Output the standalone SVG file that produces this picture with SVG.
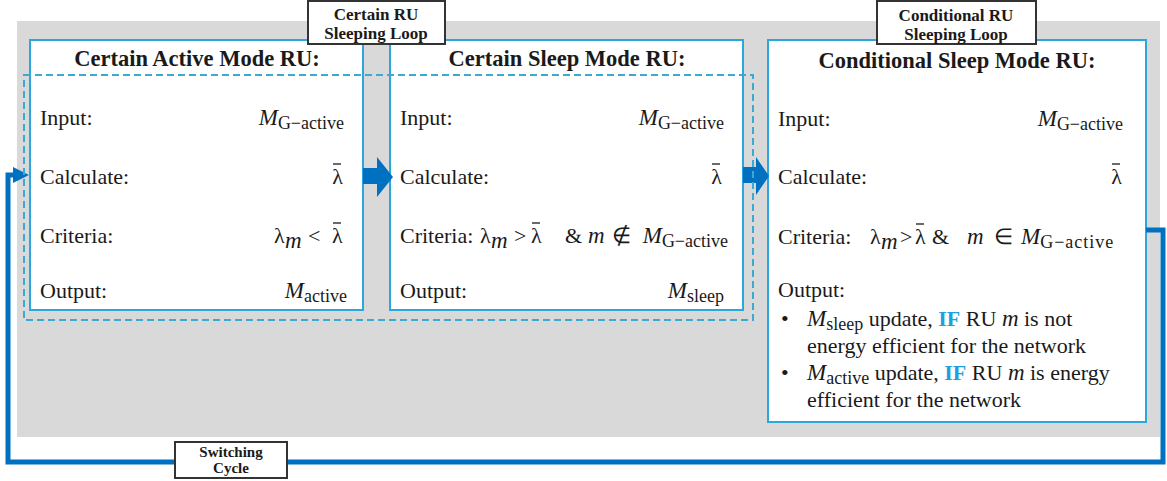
<svg xmlns="http://www.w3.org/2000/svg" width="1167" height="481" viewBox="0 0 1167 481">
<style>
  .t{font-family:"Liberation Serif","Times New Roman",serif;font-size:22px;fill:#1a1a1a}
  .tb{font-family:"Liberation Serif","Times New Roman",serif;font-weight:bold;fill:#1a1a1a}
  .it{font-style:italic}
  .mi{font-style:italic;font-size:23px}
  .sub{font-size:18px}
  .box{fill:#ffffff;stroke:#2ba6de;stroke-width:2}
  .lbl{fill:#ffffff;stroke:#333333;stroke-width:2}
  .bar{stroke:#1a1a1a;stroke-width:1.3}
  .if{fill:#1f9fdc;font-weight:bold}
</style>
<rect x="17" y="21" width="1143" height="416" fill="#d9d9d9"/>

<g id="node-active">
  <rect class="box" x="30" y="40" width="333" height="270"/>
  <text class="tb" x="197" y="66" font-size="22.5" text-anchor="middle">Certain Active Mode RU:</text>
  <text class="t" x="40" y="125">Input:</text>
  <text class="t" x="344" y="125" text-anchor="end"><tspan class="mi">M</tspan><tspan class="sub" dy="4">G−active</tspan></text>
  <text class="t" x="40" y="184">Calculate:</text>
  <text class="t" x="343" y="184" text-anchor="end">λ</text>
  <line class="bar" x1="333" y1="164" x2="341" y2="164"/>
  <text class="t" x="40" y="243">Criteria:</text>
  <text class="t" x="274" y="243">λ</text>
  <text class="t mi" x="285" y="248" font-size="19">m</text>
  <text class="t" x="308" y="243">&lt;</text>
  <text class="t" x="332" y="243">λ</text>
  <line class="bar" x1="333" y1="223" x2="341" y2="223"/>
  <text class="t" x="40" y="298">Output:</text>
  <text class="t" x="347" y="298" text-anchor="end"><tspan class="mi">M</tspan><tspan class="sub" dy="4">active</tspan></text>
</g>

<g id="node-sleep">
  <rect class="box" x="390" y="40" width="353" height="270"/>
  <text class="tb" x="567" y="66" font-size="22.5" text-anchor="middle">Certain Sleep Mode RU:</text>
  <text class="t" x="400" y="125">Input:</text>
  <text class="t" x="724" y="125" text-anchor="end"><tspan class="mi">M</tspan><tspan class="sub" dy="4">G−active</tspan></text>
  <text class="t" x="400" y="184">Calculate:</text>
  <text class="t" x="722" y="184" text-anchor="end">λ</text>
  <line class="bar" x1="712" y1="164" x2="720" y2="164"/>
  <text class="t" x="400" y="243">Criteria:</text>
  <text class="t" x="480" y="243">λ</text>
  <text class="t mi" x="491" y="248" font-size="19">m</text>
  <text class="t" x="514" y="243">&gt;</text>
  <text class="t" x="531" y="243">λ</text>
  <line class="bar" x1="532" y1="223" x2="540" y2="223"/>
  <text class="t" x="565" y="243">&amp;</text>
  <text class="t mi" x="588" y="243">m</text>
  <text class="t" x="612" y="243">∉</text>
  <text class="t" x="728" y="243" text-anchor="end"><tspan class="mi">M</tspan><tspan class="sub" dy="4">G−active</tspan></text>
  <text class="t" x="400" y="298">Output:</text>
  <text class="t" x="724" y="298" text-anchor="end"><tspan class="mi">M</tspan><tspan class="sub" dy="4">sleep</tspan></text>
</g>

<g id="node-conditional">
  <rect class="box" x="768" y="40" width="378" height="382"/>
  <text class="tb" x="957" y="68" font-size="22.5" text-anchor="middle">Conditional Sleep Mode RU:</text>
  <text class="t" x="778" y="126">Input:</text>
  <text class="t" x="1123" y="126" text-anchor="end"><tspan class="mi">M</tspan><tspan class="sub" dy="4">G−active</tspan></text>
  <text class="t" x="778" y="184">Calculate:</text>
  <text class="t" x="1122" y="184" text-anchor="end">λ</text>
  <line class="bar" x1="1112" y1="164" x2="1120" y2="164"/>
  <text class="t" x="778" y="244">Criteria:</text>
  <text class="t" x="870" y="244">λ</text>
  <text class="t mi" x="881" y="249" font-size="19">m</text>
  <text class="t" x="900" y="244">&gt;</text>
  <text class="t" x="915" y="244">λ</text>
  <line class="bar" x1="916" y1="224" x2="924" y2="224"/>
  <text class="t" x="932" y="244">&amp;</text>
  <text class="t mi" x="967" y="244">m</text>
  <text class="t" x="994" y="244">∈</text>
  <text class="t" x="1021" y="244"><tspan class="mi">M</tspan><tspan class="sub" dy="4" letter-spacing="1">G−active</tspan></text>
  <text class="t" x="778" y="297">Output:</text>
  <text class="t" x="781" y="326">•</text>
  <text class="t" x="807" y="326"><tspan class="mi">M</tspan><tspan class="sub" dy="4">sleep</tspan><tspan dy="-4"> update, </tspan><tspan class="if">IF</tspan> RU <tspan class="mi">m</tspan> is not</text>
  <text class="t" x="807" y="353">energy efficient for the network</text>
  <text class="t" x="781" y="380">•</text>
  <text class="t" x="807" y="380"><tspan class="mi">M</tspan><tspan class="sub" dy="4">active</tspan><tspan dy="-4"> update, </tspan><tspan class="if">IF</tspan> RU <tspan class="mi">m</tspan> is energy</text>
  <text class="t" x="807" y="407">efficient for the network</text>
</g>

<g id="connectors">
  <polygon fill="#0070c0" points="363,168 377,168 377,157 393,177 377,197 377,184 363,184"/>
  <polygon fill="#0070c0" points="743,167 756,167 756,157 769,176 756,195 756,183 743,183"/>
  <path d="M1146,230 H1163 V462 H8 V175 H16" fill="none" stroke="#0070c0" stroke-width="5"/>
  <polygon fill="#0070c0" points="13,167 29,175 13,183"/>
</g>

<g id="loop-certain">
  <rect x="24" y="75" width="729" height="245" fill="none" stroke="#3aaad2" stroke-width="2" stroke-dasharray="7,4"/>
</g>

<g id="label-certain">
  <rect class="lbl" x="308" y="1" width="137" height="43"/>
  <text class="tb" x="376" y="20" font-size="17" text-anchor="middle">Certain RU</text>
  <text class="tb" x="376" y="39" font-size="17" text-anchor="middle">Sleeping Loop</text>
</g>
<g id="label-conditional">
  <rect class="lbl" x="877" y="1" width="159" height="43"/>
  <text class="tb" x="956" y="21" font-size="17" text-anchor="middle">Conditional RU</text>
  <text class="tb" x="956" y="40" font-size="17" text-anchor="middle">Sleeping Loop</text>
</g>
<g id="label-switching">
  <rect class="lbl" x="175" y="442" width="112" height="36"/>
  <text class="tb" x="231" y="457" font-size="15" text-anchor="middle">Switching</text>
  <text class="tb" x="231" y="473" font-size="15" text-anchor="middle">Cycle</text>
</g>
</svg>
